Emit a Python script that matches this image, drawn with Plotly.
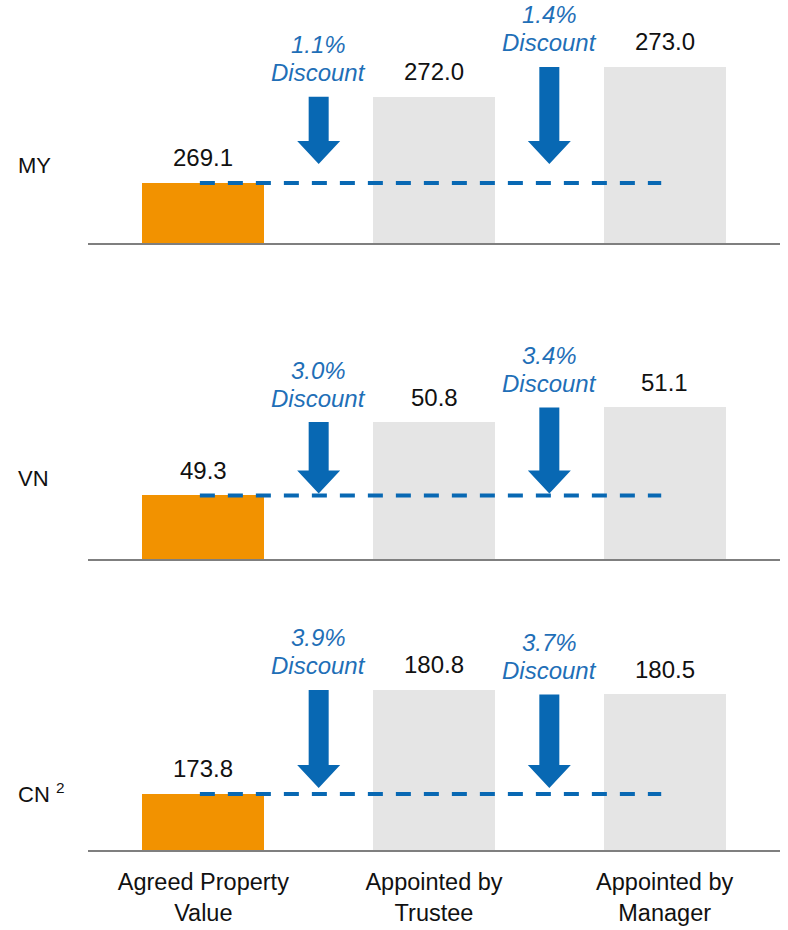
import plotly.graph_objects as go

# ---- data ----
categories = ["Agreed Property<br>Value", "Appointed by<br>Trustee", "Appointed by<br>Manager"]
market_labels = ["MY", "VN", "CN <sup>2</sup>"]
my_values = [269.1, 272.0, 273.0]
vn_values = [49.3, 50.8, 51.1]
cn_values = [173.8, 180.8, 180.5]
my_discounts = ["1.1%", "1.4%"]
vn_discounts = ["3.0%", "3.4%"]
cn_discounts = ["3.9%", "3.7%"]

panel_values = [my_values, vn_values, cn_values]
panel_discounts = [my_discounts, vn_discounts, cn_discounts]

# ---- layout / style ----
W, H = 788, 930
PLOT_LEFT, PLOT_RIGHT = 88, 780
PANEL_HEIGHT = 240
panel_baseline_px = [243, 559, 850]      # pixel row of each panel's axis line
panel_floor = [267.08, 48.0, 170.03]     # value at each panel's axis line (truncated axes)
panel_px_per_unit = [29.74, 48.9, 14.86]
arrow_gap_px = [19, 2, 6]                # gap between arrow tip and the dashed reference line
label_center_px = [165, 478, 793]

FONT = "Liberation Sans, Arial, sans-serif"
ORANGE = "#F29200"
GREY = "#E5E5E5"
ARROW_BLUE = "#0868B3"
TEXT_BLUE = "#1F6FB7"
AXIS_GREY = "#7F7F7F"

SHAFT_HALF = 10
HEAD_HALF = 21.5
HEAD_LEN = 23

fig = go.Figure()
shapes = []
annotations = []
layout_axes = {}

for i, (vals, discs) in enumerate(zip(panel_values, panel_discounts)):
    k = i + 1
    sfx = "" if k == 1 else str(k)
    xr, yr = "x" + sfx, "y" + sfx
    ppu = panel_px_per_unit[i]
    base_px = panel_baseline_px[i]

    fig.add_trace(go.Bar(
        x=[0, 1, 2], y=vals, width=0.53,
        marker=dict(color=[ORANGE, GREY, GREY], line=dict(width=0)),
        xaxis=xr, yaxis=yr, showlegend=False, hoverinfo="y",
    ))

    layout_axes["xaxis" + sfx] = dict(
        domain=[PLOT_LEFT / W, PLOT_RIGHT / W], anchor=yr, range=[-0.5, 2.5],
        showline=True, linecolor=AXIS_GREY, linewidth=2,
        showgrid=False, zeroline=False,
        tickvals=[0, 1, 2], ticktext=categories, showticklabels=(k == 3),
        ticks="outside", ticklen=10, tickcolor="rgba(0,0,0,0)",
        tickfont=dict(family=FONT, size=23.5, color="#111111"),
        fixedrange=True,
    )
    y0 = (H - base_px) / H
    layout_axes["yaxis" + sfx] = dict(
        domain=[y0, y0 + PANEL_HEIGHT / H], anchor=xr,
        range=[panel_floor[i], panel_floor[i] + PANEL_HEIGHT / ppu],
        visible=False, fixedrange=True,
    )

    # dashed reference line at the agreed value
    shapes.append(dict(
        type="line", xref=xr, yref=yr, x0=-0.015, x1=1.985, y0=vals[0], y1=vals[0],
        line=dict(color=ARROW_BLUE, width=4, dash="15px,13px"), layer="above",
    ))

    # value labels above the bars
    for j, v in enumerate(vals):
        annotations.append(dict(
            xref=xr, yref=yr, x=j, y=v, yshift=25, yanchor="middle",
            text=f"{v:.1f}", showarrow=False,
            font=dict(family=FONT, size=24, color="#111111"),
        ))

    # discount arrows and captions
    tip = vals[0] + arrow_gap_px[i] / ppu
    head_top = tip + HEAD_LEN / ppu
    for j, d in enumerate(discs, start=1):
        top = vals[j]
        xa = j - 0.5
        path = (f"M {-SHAFT_HALF},{top} L {SHAFT_HALF},{top} L {SHAFT_HALF},{head_top} "
                f"L {HEAD_HALF},{head_top} L 0,{tip} L {-HEAD_HALF},{head_top} "
                f"L {-SHAFT_HALF},{head_top} Z")
        shapes.append(dict(
            type="path", xref=xr, yref=yr, xsizemode="pixel", xanchor=xa,
            path=path, fillcolor=ARROW_BLUE, line=dict(width=0), layer="above",
        ))
        for txt, shift in ((d, 52), ("Discount", 24)):
            annotations.append(dict(
                xref=xr, yref=yr, x=xa, y=top, yshift=shift, yanchor="middle",
                text=txt, showarrow=False,
                font=dict(family=FONT, size=24, color=TEXT_BLUE, style="italic"),
            ))

    # market label on the left
    annotations.append(dict(
        xref="paper", yref="paper", x=16 / W, y=1 - label_center_px[i] / H,
        xanchor="left", yanchor="middle", text=market_labels[i], showarrow=False,
        font=dict(family=FONT, size=22, color="#111111"),
    ))

fig.update_layout(
    width=W, height=H, margin=dict(l=0, r=0, t=0, b=0),
    paper_bgcolor="white", plot_bgcolor="white",
    shapes=shapes, annotations=annotations, bargap=0,
    font=dict(family=FONT),
    **layout_axes,
)

fig.write_html("out.html")
